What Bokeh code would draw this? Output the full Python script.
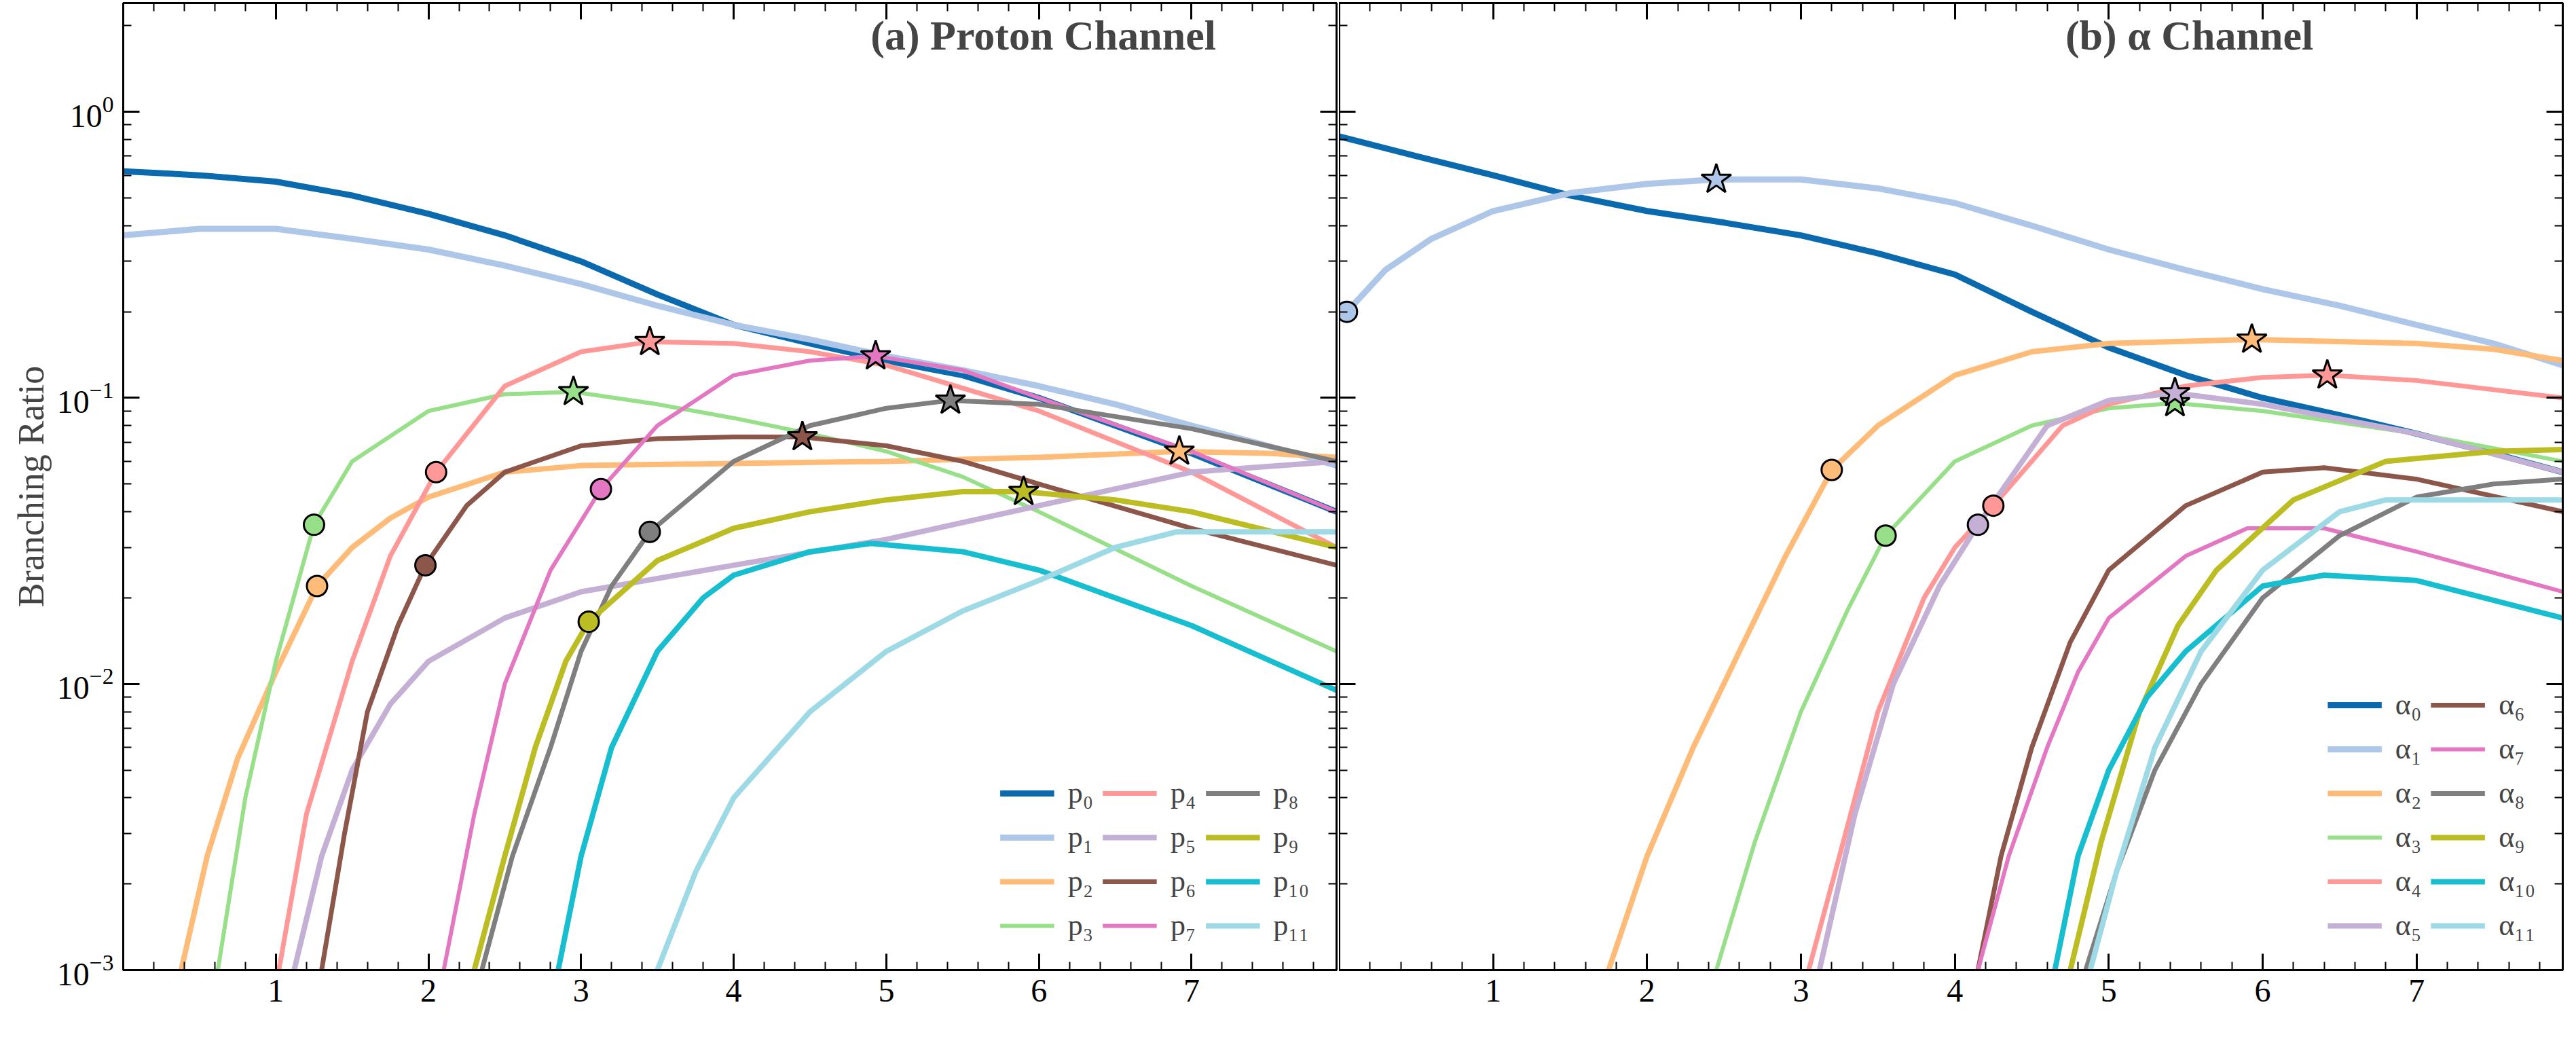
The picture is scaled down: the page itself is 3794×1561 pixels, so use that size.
from bokeh.plotting import figure
from bokeh.layouts import row
from bokeh.models import (Range1d, LogAxis, LinearAxis, FixedTicker, LogTicker, Legend, LegendItem,
                          Label, CustomJSTickFormatter)
from bokeh.embed import file_html
from bokeh.resources import INLINE

# ---------------- data ----------------
p_labels = ["p₀", "p₁", "p₂", "p₃", "p₄", "p₅", "p₆", "p₇", "p₈", "p₉", "p₁₀", "p₁₁"]
a_labels = ["α₀", "α₁", "α₂", "α₃", "α₄", "α₅", "α₆", "α₇", "α₈", "α₉", "α₁₀", "α₁₁"]
colors = ["#0a6aad", "#aec7e8", "#ffbb78", "#98df8a", "#ff9896", "#c5b0d5",
          "#8c564b", "#e377c2", "#7f7f7f", "#bcbd22", "#17becf", "#9edae5"]
widths = [9, 9, 8, 6, 7, 8, 7, 6, 7, 8, 8, 8]

p_x = [
    [0, 0.5, 1, 1.5, 2, 2.5, 3, 3.5, 4, 4.5, 5, 5.5, 6, 6.5, 7, 7.5, 7.95],
    [0, 0.5, 1, 1.5, 2, 2.5, 3, 3.5, 4, 4.5, 5, 5.5, 6, 6.5, 7, 7.5, 7.95],
    [0.38, 0.55, 0.75, 1.0, 1.27, 1.5, 1.75, 2.0, 2.5, 3.0, 4.0, 5.0, 6.0, 6.92, 7.5, 7.95],
    [0.62, 0.8, 1.0, 1.25, 1.5, 2.0, 2.5, 2.95, 3.5, 4.0, 4.5, 5.0, 5.5, 6.0, 7.0, 7.95],
    [1.02, 1.2, 1.5, 1.75, 2.05, 2.5, 3.0, 3.45, 4.0, 4.5, 5.0, 6.0, 7.0, 7.95],
    [1.12, 1.3, 1.5, 1.75, 2.0, 2.5, 3.0, 4.0, 5.0, 6.0, 7.0, 7.95],
    [1.3, 1.45, 1.6, 1.8, 1.98, 2.25, 2.5, 3.0, 3.5, 4.0, 4.45, 5.0, 5.5, 6.0, 7.0, 7.95],
    [2.1, 2.3, 2.5, 2.8, 3.13, 3.5, 4.0, 4.5, 4.93, 5.5, 6.0, 7.0, 7.95],
    [2.35, 2.55, 2.8, 3.0, 3.2, 3.45, 4.0, 4.5, 5.0, 5.42, 6.0, 7.0, 7.95],
    [2.3, 2.5, 2.7, 2.9, 3.05, 3.5, 4.0, 4.5, 5.0, 5.5, 5.9, 6.5, 7.0, 7.95],
    [2.85, 3.0, 3.2, 3.5, 3.8, 4.0, 4.5, 4.9, 5.5, 6.0, 6.5, 7.0, 7.95],
    [3.5, 3.75, 4.0, 4.5, 5.0, 5.5, 6.0, 6.5, 6.9, 7.95],
]
p_y = [
    [0.62, 0.60, 0.57, 0.51, 0.44, 0.37, 0.30, 0.23, 0.18, 0.155, 0.135, 0.12, 0.10, 0.08, 0.064, 0.05, 0.04],
    [0.37, 0.39, 0.39, 0.36, 0.33, 0.29, 0.25, 0.21, 0.18, 0.16, 0.14, 0.125, 0.11, 0.095, 0.08, 0.068, 0.058],
    [0.001, 0.0025, 0.0055, 0.011, 0.022, 0.030, 0.038, 0.045, 0.055, 0.058, 0.059, 0.060, 0.062, 0.065, 0.064, 0.062],
    [0.001, 0.004, 0.012, 0.036, 0.060, 0.090, 0.103, 0.105, 0.095, 0.085, 0.075, 0.065, 0.053, 0.040, 0.022, 0.013],
    [0.001, 0.0035, 0.012, 0.028, 0.055, 0.11, 0.145, 0.157, 0.155, 0.145, 0.13, 0.09, 0.055, 0.03],
    [0.001, 0.0025, 0.005, 0.0085, 0.012, 0.017, 0.021, 0.026, 0.032, 0.042, 0.055, 0.060],
    [0.001, 0.003, 0.008, 0.016, 0.026, 0.042, 0.055, 0.068, 0.072, 0.073, 0.073, 0.068, 0.060, 0.050, 0.035, 0.026],
    [0.001, 0.0035, 0.010, 0.025, 0.048, 0.080, 0.12, 0.135, 0.140, 0.125, 0.10, 0.065, 0.040],
    [0.001, 0.0025, 0.006, 0.013, 0.022, 0.034, 0.060, 0.080, 0.092, 0.098, 0.095, 0.078, 0.060],
    [0.001, 0.0025, 0.006, 0.012, 0.0165, 0.027, 0.035, 0.040, 0.044, 0.047, 0.047, 0.044, 0.040, 0.030],
    [0.001, 0.0025, 0.006, 0.013, 0.020, 0.024, 0.029, 0.031, 0.029, 0.025, 0.020, 0.016, 0.0095],
    [0.001, 0.0022, 0.004, 0.008, 0.013, 0.018, 0.023, 0.030, 0.034, 0.034],
]
p_circles = {2: (1.27, 0.022), 3: (1.25, 0.036), 4: (2.05, 0.055), 6: (1.98, 0.026),
             7: (3.13, 0.048), 8: (3.45, 0.034), 9: (3.05, 0.0165)}
p_stars = {2: (6.92, 0.065), 3: (2.95, 0.105), 4: (3.45, 0.157), 6: (4.45, 0.073),
           7: (4.93, 0.140), 8: (5.42, 0.098), 9: (5.9, 0.047)}

a_x = [
    [0, 0.5, 1, 1.5, 2, 2.5, 3, 3.5, 4, 4.5, 5, 5.5, 6, 6.5, 7, 7.5, 7.95],
    [0.05, 0.3, 0.6, 1.0, 1.5, 2.0, 2.45, 3.0, 3.5, 4.0, 4.5, 5.0, 5.5, 6.0, 6.5, 7.0, 7.5, 7.95],
    [1.75, 2.0, 2.3, 2.6, 2.9, 3.2, 3.5, 4.0, 4.5, 5.0, 5.93, 7.0, 7.5, 7.95],
    [2.45, 2.7, 3.0, 3.3, 3.55, 4.0, 4.5, 5.0, 5.43, 6.0, 7.0, 7.95],
    [3.05, 3.25, 3.5, 3.8, 4.0, 4.25, 4.7, 5.0, 5.5, 6.0, 6.42, 7.0, 7.95],
    [3.12, 3.35, 3.6, 3.9, 4.15, 4.6, 5.0, 5.43, 6.0, 7.0, 7.95],
    [4.15, 4.3, 4.5, 4.75, 5.0, 5.5, 6.0, 6.4, 7.0, 7.95],
    [4.15, 4.35, 4.6, 4.8, 5.0, 5.5, 5.9, 6.4, 7.0, 7.95],
    [4.85, 5.05, 5.3, 5.6, 6.0, 6.5, 7.0, 7.5, 7.95],
    [4.75, 4.95, 5.2, 5.45, 5.7, 6.2, 6.8, 7.5, 7.95],
    [4.65, 4.8, 5.0, 5.25, 5.5, 6.0, 6.4, 7.0, 7.95],
    [4.88, 5.05, 5.3, 5.6, 6.0, 6.5, 6.8, 7.5, 7.95],
]
a_y = [
    [0.82, 0.70, 0.60, 0.51, 0.45, 0.41, 0.37, 0.32, 0.27, 0.20, 0.15, 0.12, 0.10, 0.087, 0.075, 0.064, 0.055],
    [0.20, 0.28, 0.36, 0.45, 0.52, 0.56, 0.58, 0.58, 0.54, 0.48, 0.40, 0.33, 0.28, 0.24, 0.21, 0.18, 0.155, 0.13],
    [0.001, 0.0025, 0.006, 0.013, 0.028, 0.056, 0.080, 0.12, 0.145, 0.155, 0.160, 0.155, 0.148, 0.135],
    [0.001, 0.0028, 0.008, 0.018, 0.033, 0.060, 0.080, 0.092, 0.096, 0.090, 0.075, 0.060],
    [0.001, 0.0025, 0.008, 0.020, 0.030, 0.042, 0.080, 0.095, 0.110, 0.118, 0.120, 0.115, 0.100],
    [0.001, 0.0035, 0.010, 0.022, 0.036, 0.080, 0.098, 0.104, 0.095, 0.075, 0.055],
    [0.001, 0.0025, 0.006, 0.014, 0.025, 0.042, 0.055, 0.057, 0.052, 0.040],
    [0.001, 0.0025, 0.006, 0.011, 0.017, 0.028, 0.035, 0.035, 0.029, 0.021],
    [0.001, 0.0022, 0.005, 0.010, 0.020, 0.033, 0.045, 0.050, 0.052],
    [0.001, 0.0028, 0.008, 0.016, 0.025, 0.044, 0.060, 0.065, 0.066],
    [0.001, 0.0025, 0.005, 0.009, 0.013, 0.022, 0.024, 0.023, 0.017],
    [0.001, 0.0022, 0.006, 0.013, 0.025, 0.040, 0.044, 0.044, 0.044],
]
a_circles = {1: (0.05, 0.20), 2: (3.2, 0.056), 3: (3.55, 0.033), 4: (4.25, 0.042), 5: (4.15, 0.036)}
a_stars = {1: (2.45, 0.58), 2: (5.93, 0.160), 3: (5.43, 0.096), 4: (6.42, 0.120), 5: (5.43, 0.104)}

x_major = [1, 2, 3, 4, 5, 6, 7]
x_minor = [round(i * 0.2, 1) for i in range(0, 41)]

SERIF = "Liberation Serif"
H = 1545
BLANK = CustomJSTickFormatter(code="return ''")


def style_axis(ax, labels=True):
    ax.major_tick_in = 24
    ax.major_tick_out = 0
    ax.minor_tick_in = 12
    ax.minor_tick_out = 0
    ax.major_tick_line_width = 3
    ax.minor_tick_line_width = 2
    ax.axis_line_width = 3
    ax.major_label_text_font = SERIF
    ax.major_label_text_color = "black"
    ax.major_label_text_font_size = "48px"
    ax.major_label_standoff = 14 if labels else 0
    if not labels:
        ax.formatter = BLANK
    ax.axis_label_text_font = SERIF
    ax.axis_label_text_font_style = "normal"
    ax.axis_label_text_font_size = "54px"


def make_panel(xs, ys, labels, circles, stars, title, title_x, width, left_labels, nrows, xlab_x):
    p = figure(width=width, height=H, y_axis_type="log", output_backend="svg",
               toolbar_location=None, x_range=Range1d(0, 7.95), y_range=Range1d(1e-3, 2.4),
               min_border_left=181 if left_labels else 0, min_border_right=4,
               min_border_top=4, min_border_bottom=10)
    p.grid.visible = False
    p.outline_line_color = "black"
    p.outline_line_width = 3
    p.background_fill_color = "white"
    p.xaxis.ticker = FixedTicker(ticks=x_major, minor_ticks=x_minor)
    p.yaxis.ticker = LogTicker(num_minor_ticks=10)
    style_axis(p.xaxis[0])
    p.xaxis.axis_label = "\u00a0"
    style_axis(p.yaxis[0], labels=left_labels)
    if left_labels:
        p.yaxis.axis_label = "Branching Ratio"
    top = LinearAxis(ticker=FixedTicker(ticks=x_major, minor_ticks=x_minor))
    style_axis(top, labels=False)
    p.add_layout(top, "above")
    right = LogAxis(ticker=LogTicker(num_minor_ticks=10))
    style_axis(right, labels=False)
    p.add_layout(right, "right")

    items = []
    for i in range(12):
        r = p.line(xs[i], ys[i], line_color=colors[i], line_width=widths[i])
        items.append(LegendItem(label=labels[i], renderers=[r]))
    for i, (cx, cy) in circles.items():
        p.scatter([cx], [cy], marker="circle", size=30, fill_color=colors[i],
                  line_color="black", line_width=3)
    for i, (sx, sy) in stars.items():
        p.scatter([sx], [sy], marker="star", size=46, fill_color=colors[i],
                  line_color="black", line_width=3)

    leg = Legend(items=items, location="bottom_right", nrows=nrows,
                 background_fill_alpha=0, border_line_alpha=0,
                 label_text_font=SERIF, label_text_font_size="44px",
                 glyph_width=80, glyph_height=40, spacing=14,
                 label_standoff=20, margin=30, padding=10)
    p.add_layout(leg)

    p.add_layout(Label(x=title_x, y=1.85, text=title, text_font=SERIF, text_font_size="62px",
                       text_font_style="bold", text_align="right", text_baseline="middle"))
    yb = 10 ** -3.25
    p.add_layout(Label(x=xlab_x, y=yb, text="E", text_font=SERIF, text_font_size="54px",
                       text_baseline="alphabetic"))
    p.add_layout(Label(x=xlab_x, y=yb, x_offset=33, y_offset=-12, text="cm", text_font=SERIF,
                       text_font_size="38px", text_baseline="alphabetic"))
    p.add_layout(Label(x=xlab_x, y=yb, x_offset=92, text="(MeV)", text_font=SERIF,
                       text_font_size="54px", text_baseline="alphabetic"))
    return p


left = make_panel(p_x, p_y, p_labels, p_circles, p_stars, "(a) Proton Channel", 7.16,
                  1972, True, 4, 3.3)
right = make_panel(a_x, a_y, a_labels, a_circles, a_stars, "(b) α Channel", 6.33,
                   1806, False, 6, 3.0)

layout = row(left, right)
open("out.html", "w").write(file_html(layout, INLINE))
